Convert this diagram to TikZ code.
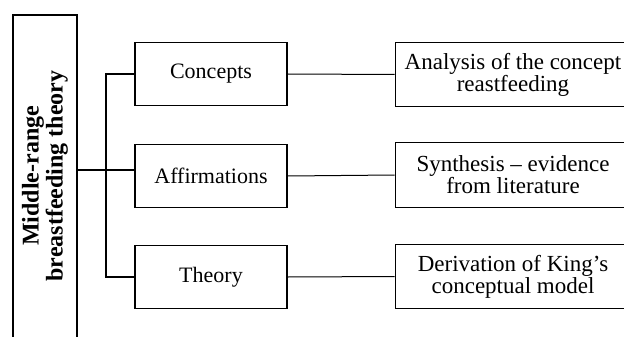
\documentclass[tikz,border=0pt]{standalone}
\usepackage{fontspec}
\setmainfont{Liberation Serif}
\usepackage{tikz}

\tikzset{
	rootframe/.style={draw,line width=1pt,minimum width=32pt,minimum height=176pt,inner sep=0pt},
	roottext/.style={rotate=90,align=center,inner sep=0pt,font=\fontsize{12}{12}\selectfont\bfseries},
	partbox/.style={draw,line width=0.75pt,minimum width=76pt,minimum height=31.5pt,inner sep=0pt,
		font=\fontsize{11}{12}\selectfont},
	notebox/.style={draw,line width=0.5pt,align=center,minimum width=118pt,minimum height=32pt,inner sep=0pt,
		font=\fontsize{11.5}{11}\selectfont},
}

\begin{document}
\begin{tikzpicture}[x=0.5pt,y=-0.5pt]
		\useasboundingbox (0,0) rectangle (624,336);
		\clip (0,0) rectangle (624,336);
		\node[rootframe] (frame) at (45,191) {};
		\node[roottext] (root) at (45,176) {Middle-range\\breastfeeding theory};
		%
		\node[partbox] (concepts) at (211,74) {Concepts};
		\node[partbox] (affirm) at (211,176) {Affirmations};
		\node[partbox] (theory) at (211,277) {Theory};
		%
		\node[notebox] (analysis) at (513,74.5) {Analysis of the concept\\reastfeeding};
		\node[notebox] (synthesis) at (513,175) {Synthesis – evidence\\from literature};
		\node[notebox] (derivation) at (513,276.5) {Derivation of King’s\\conceptual model};
		%
		\coordinate (fork) at (106,170);
		\draw[line width=1pt]
			(fork -| frame.east) -- (fork -| affirm.west)
			(theory.west) -| (fork) |- (concepts.west);
		%
		\draw[line width=0.5pt]
			(concepts.east) -- (analysis.west)
			(affirm.east) -- (synthesis.west)
			(theory.east) -- (derivation.west);
	\end{tikzpicture}
\end{document}
